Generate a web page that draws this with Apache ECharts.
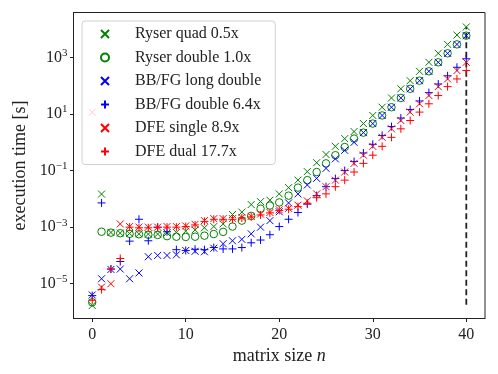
<!DOCTYPE html>
<html>
<head>
<meta charset="utf-8">
<script src="https://cdn.jsdelivr.net/npm/echarts@6/dist/echarts.min.js"></script>
<style>
  html, body { margin: 0; padding: 0; background: #fff; }
  #chart { width: 498px; height: 374px; }
</style>
</head>
<body>
<div id="chart"></div>
<script>
// matrix size n = 0..40
var sizes = [];
for (var k = 0; k <= 40; k++) sizes.push(k);

// execution time [s]
var ryserQuad = [1.7e-6, 0.0148, 6.5e-4, 6.2e-4, 6.0e-4, 5.8e-4, 5.7e-4, 5.7e-4, 6.2e-4, 6.5e-4,
	7.2e-4, 8e-4, 9.5e-4, 1.05e-3, 1.3e-3, 2.8e-3, 3.4e-3, 6.3e-3, 8e-3, 9e-3,
	0.015, 0.025, 0.046, 0.092, 0.19, 0.37, 0.72, 1.35, 2.4, 4.6,
	8.9, 17.4, 37, 78, 151, 324, 675, 1400, 2900, 6200, 12000];
var ryserDouble = [2.2e-6, 6.9e-4, 6.4e-4, 6.1e-4, 5.8e-4, 5.6e-4, 5.4e-4, 5.3e-4, 4.8e-4, 4.6e-4,
	4.5e-4, 4.6e-4, 5.0e-4, 5.7e-4, 6.8e-4, 1.05e-3, 1.7e-3, 2.5e-3, 4.5e-3, 5.8e-3,
	7.5e-3, 0.013, 0.025, 0.046, 0.089, 0.18, 0.35, 0.68, 1.35, 2.2,
	4.6, 8.9, 17.4, 37, 78, 151, 324, 675, 1400, 2900, 5900];
var bbfgLong = [4e-6, 1.5e-5, 3.2e-5, 3.3e-5, 1.5e-5, 2.4e-5, 9e-5, 1e-4, 1e-4, 1.05e-4,
	1.5e-4, 1.4e-4, 1.35e-4, 1.8e-4, 2.6e-4, 3.3e-4, 3.7e-4, 5.8e-4, 1e-3, 1.7e-3,
	3.5e-3, 7.2e-3, 0.015, 0.031, 0.053, 0.12, 0.26, 0.52, 1.0, 2.2,
	4.6, 8.9, 17.4, 37, 78, 151, 324, 675, 1400, 2900, 5900];
var bbfgDouble = [3.8e-6, 7.2e-3, 3.3e-5, 6.1e-5, 3.2e-4, 1.9e-3, 3.3e-4, 1.0e-3, 6.9e-4, 1.6e-4,
	1.5e-4, 1.65e-4, 1.6e-4, 1.9e-4, 1.7e-4, 1.7e-4, 1.9e-4, 2.8e-4, 3.5e-4, 5.4e-4,
	1.05e-3, 1.9e-3, 3.3e-3, 6.5e-3, 0.013, 0.027, 0.052, 0.1, 0.21, 0.42,
	0.85, 1.75, 3.6, 7.2, 14.5, 29, 57, 115, 225, 450, 900];
var dfeSingle = [11.5, 7.6e-6, 1e-5, 1.3e-3, 1.05e-3, 1.0e-3, 1.0e-3, 1.0e-3, 1.05e-3, 1.05e-3,
	1.1e-3, 1.26e-3, 1.7e-3, 2.0e-3, 2.0e-3, 2.0e-3, 2.2e-3, 2.4e-3, 2.9e-3, 3.3e-3,
	4.1e-3, 4.6e-3, 6e-3, 8.5e-3, 0.015, 0.027, 0.046, 0.089, 0.18, 0.35,
	0.72, 1.5, 3.0, 5.9, 11.7, 23, 45, 93, 174, 345, 675];
var dfeDual = [2.6e-6, 6.2e-6, 3.3e-5, 7.8e-5, 1.0e-3, 9.5e-4, 9.5e-4, 9.8e-4, 1.0e-3, 1.0e-3,
	1.05e-3, 1.2e-3, 1.6e-3, 1.9e-3, 1.9e-3, 1.9e-3, 2.1e-3, 2.3e-3, 2.7e-3, 3.2e-3,
	3.9e-3, 4.3e-3, 5.3e-3, 7e-3, 0.011, 0.015, 0.027, 0.046, 0.089, 0.18,
	0.35, 0.72, 1.5, 3.0, 5.9, 11.7, 23, 45, 93, 174, 345];

// dashed marker at n = 40
var limitX = [40, 40];
var limitY = [1.8e-6, 1.2e4];

var xTicks = [0, 10, 20, 30, 40];
var yTicks = [1e-5, 1e-3, 1e-1, 1e1, 1e3];

var FONT = 'Liberation Serif';
var CROSS = 'path://M0,0L10,10M0,10L10,0';
var PLUS = 'path://M5,0L5,10M0,5L10,5';

function pairs(ys) {
	return sizes.map(function(n, i) { return [n, ys[i]]; });
}

function scatter(name, ys, symbol, color, size) {
	var open = symbol === 'circle';
	return {
		name: name,
		type: 'scatter',
		data: pairs(ys),
		symbol: symbol,
		symbolSize: size,
		symbolKeepAspect: true,
		itemStyle: {
			color: open ? 'rgba(0,0,0,0)' : color,
			borderColor: color,
			borderWidth: 1,
			opacity: 1
		},
		emphasis: { disabled: true }
	};
}

var chart = echarts.init(document.getElementById('chart'), null, { renderer: 'canvas' });
chart.setOption({
	animation: false,
	textStyle: { fontFamily: FONT },
	grid: { left: 73.5, right: 13, top: 12.5, bottom: 55.5, show: true, borderColor: '#222', borderWidth: 1 },
	legend: {
		orient: 'vertical',
		left: 82,
		top: 21,
		padding: [5, 14, 5, 18],
		itemGap: 7.5,
		itemWidth: 8,
		itemHeight: 8,
		backgroundColor: 'rgba(255,255,255,0.8)',
		borderColor: '#d0d0d0',
		borderWidth: 1,
		borderRadius: 3,
		textStyle: { fontFamily: FONT, fontSize: 16, color: '#222', lineHeight: 14, padding: [0, 0, 0, 21] },
		data: ['Ryser quad 0.5x', 'Ryser double 1.0x', 'BB/FG long double', 'BB/FG double 6.4x', 'DFE single 8.9x', 'DFE dual 17.7x']
	},
	xAxis: {
		type: 'value',
		min: -2,
		max: 42,
		name: 'matrix size {i|n}',
		nameLocation: 'middle',
		nameGap: 27,
		nameTextStyle: { fontFamily: FONT, fontSize: 18, color: '#222', rich: { i: { fontFamily: FONT, fontSize: 18, fontStyle: 'italic', color: '#222' } } },
		splitLine: { show: false },
		axisLine: { onZero: false, lineStyle: { color: '#222' } },
		axisTick: { customValues: xTicks, length: 3.5, lineStyle: { color: '#222' } },
		axisLabel: { customValues: xTicks, margin: 8, fontFamily: FONT, fontSize: 16, color: '#222' }
	},
	yAxis: {
		type: 'log',
		min: Math.pow(10, -6.23),
		max: Math.pow(10, 4.59),
		name: 'execution time [s]',
		nameLocation: 'middle',
		nameGap: 44,
		nameTextStyle: { fontFamily: FONT, fontSize: 18, color: '#222' },
		splitLine: { show: false },
		axisLine: { onZero: false, lineStyle: { color: '#222' } },
		axisTick: { customValues: yTicks, length: 3.5, lineStyle: { color: '#222' } },
		axisLabel: {
			customValues: yTicks,
			margin: 6,
			fontFamily: FONT,
			fontSize: 16,
			lineHeight: 20,
			color: '#222',
			formatter: function(v) {
				var e = Math.round(Math.log10(v));
				return '10{sup|' + (e < 0 ? '\u2212' + (-e) : e) + '}';
			},
			rich: { sup: { fontFamily: FONT, fontSize: 11, lineHeight: 11, verticalAlign: 'top', color: '#222' } }
		}
	},
	series: [
		{
			type: 'line',
			data: limitX.map(function(x, i) { return [x, limitY[i]]; }),
			symbol: 'none',
			silent: true,
			lineStyle: { color: '#222', width: 1.8, type: [6, 3.5] },
			z: 1
		},
		scatter('Ryser quad 0.5x', ryserQuad, CROSS, '#008000', 7),
		scatter('Ryser double 1.0x', ryserDouble, 'circle', '#008000', 7.5),
		scatter('BB/FG long double', bbfgLong, CROSS, '#0000ff', 7),
		scatter('BB/FG double 6.4x', bbfgDouble, PLUS, '#0000ff', 8),
		scatter('DFE single 8.9x', dfeSingle, CROSS, '#ff0000', 7),
		scatter('DFE dual 17.7x', dfeDual, PLUS, '#ff0000', 8)
	]
});
</script>
</body>
</html>
